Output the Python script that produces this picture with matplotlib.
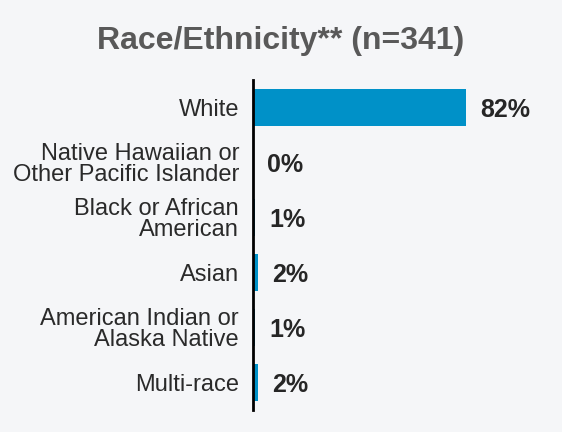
import matplotlib
matplotlib.use("Agg")
import matplotlib.pyplot as plt

categories = ["White", "Native Hawaiian or\nOther Pacific Islander", "Black or African\nAmerican",
              "Asian", "American Indian or\nAlaska Native", "Multi-race"]
values = [82, 0, 1, 2, 1, 2]
labels = ["82%", "0%", "1%", "2%", "1%", "2%"]

plt.rcParams['font.family'] = ['Liberation Sans', 'DejaVu Sans']
bg = "#f5f6f8"

fig = plt.figure(figsize=(5.62, 4.32), dpi=100, facecolor=bg)
ax = fig.add_axes([0.450, 0.051, 0.4626, 0.764], facecolor=bg)

y = list(range(len(categories)))
ax.barh(y, values, height=0.66, color="#0091c8")
ax.set_xlim(0, 100)
ax.set_ylim(len(categories) - 0.5, -0.5)

for yi, v, lab in zip(y, values, labels):
    ax.annotate(lab, (v, yi), xytext=(10, -2), textcoords="offset points",
                va="center", ha="left", fontsize=18, fontweight="bold", color="#262626")

ax.set_yticks(y)
ax.set_yticklabels(categories, fontsize=17, color="#2a2a2a", linespacing=0.95)
ax.tick_params(axis="y", length=0, pad=10)
ax.set_xticks([])
for s in ["top", "right", "bottom"]:
    ax.spines[s].set_visible(False)
ax.spines["left"].set_linewidth(2)
ax.spines["left"].set_color("black")

fig.text(0.5, 0.905, "Race/Ethnicity** (n=341)", ha="center", va="center",
         fontsize=23, fontweight="bold", color="#595959")

fig.savefig("out.png", dpi=100, facecolor=bg)
